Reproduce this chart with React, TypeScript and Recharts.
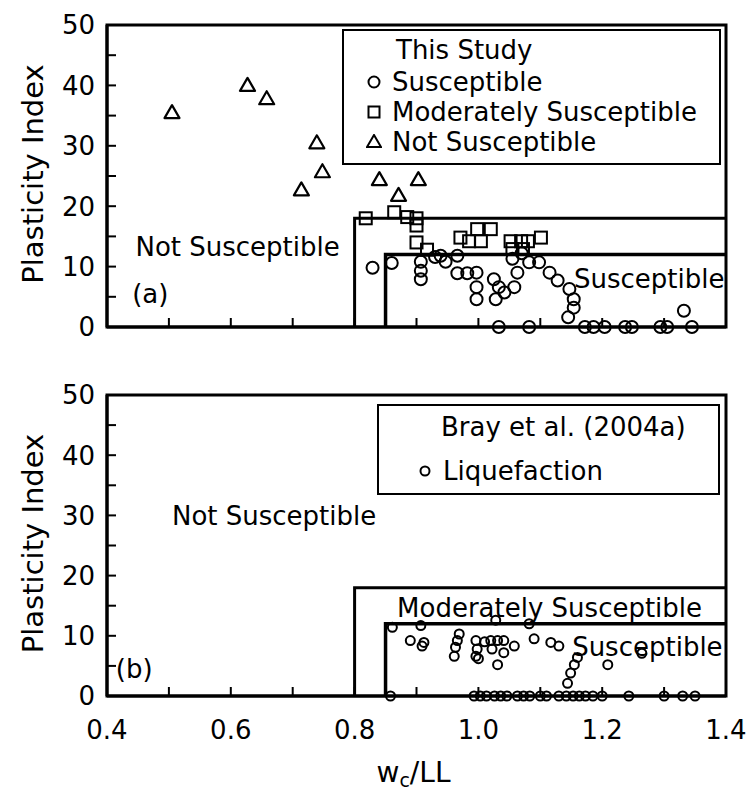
import React from "react";
import {
  ScatterChart,
  Scatter,
  XAxis,
  YAxis,
  ReferenceArea,
  ReferenceDot,
  Legend,
} from "recharts";

// axis ticks
const xTicks = [0.4, 0.5, 0.6, 0.7, 0.8, 0.9, 1.0, 1.1, 1.2, 1.3, 1.4];
const xTickLabels = ["0.4", "", "0.6", "", "0.8", "", "1.0", "", "1.2", "", "1.4"];
const yTicks = [0, 5, 10, 15, 20, 25, 30, 35, 40, 45, 50];

// criteria boundaries (wc/LL, PI)
const moderateBoundary: [number, number][] = [[0.8, 0], [0.8, 18], [1.4, 18]];
const susceptibleBoundary: [number, number][] = [[0.85, 0], [0.85, 12], [1.4, 12]];

// (a) this study
const studySusceptible: [number, number][] = [
  [0.829, 9.8], [0.86, 10.6], [0.907, 10.8], [0.907, 9.3], [0.907, 7.9], [0.93, 11.6],
  [0.939, 11.8], [0.947, 10.8], [0.966, 11.8], [0.966, 8.9], [0.982, 8.9], [0.997, 9.0],
  [0.997, 6.6], [0.997, 4.6], [1.025, 7.9], [1.033, 6.6], [1.028, 4.6], [1.042, 5.7],
  [1.058, 6.6], [1.063, 9.0], [1.055, 11.3], [1.07, 12.2], [1.082, 10.7], [1.098, 10.7],
  [1.115, 9.0], [1.128, 7.7], [1.147, 6.3], [1.154, 4.6], [1.154, 3.2], [1.145, 1.6],
  [1.332, 2.7],
  [1.033, 0], [1.082, 0], [1.172, 0], [1.186, 0], [1.204, 0], [1.237, 0], [1.248, 0],
  [1.294, 0], [1.305, 0], [1.345, 0],
];
const studyModerate: [number, number][] = [
  [0.818, 18.0], [0.864, 19.0], [0.885, 18.2], [0.9, 18.0], [0.9, 16.8], [0.9, 14.0],
  [0.917, 12.8], [0.971, 14.8], [0.998, 16.2], [1.02, 16.2], [0.985, 14.2], [1.004, 14.2],
  [1.052, 14.2], [1.069, 14.2], [1.08, 14.2], [1.055, 12.9], [1.072, 12.9], [1.101, 14.8],
];
const studyNot: [number, number][] = [
  [0.505, 35.5], [0.627, 40], [0.658, 37.8], [0.739, 30.5], [0.748, 25.7], [0.714, 22.7],
  [0.84, 24.4], [0.871, 21.8], [0.903, 24.4],
];

// (b) Bray et al. (2004a)
const brayLiquefaction: [number, number][] = [
  [0.861, 11.4], [0.907, 11.7], [0.89, 9.2], [0.912, 8.9], [0.909, 8.3], [0.969, 10.3],
  [0.966, 9.2], [0.963, 8.1], [0.961, 6.6], [0.996, 9.2], [0.998, 7.8], [0.996, 6.6],
  [1.01, 9.0], [1.0, 6.2], [1.02, 9.2], [1.031, 9.2], [1.041, 9.2], [1.022, 7.8],
  [1.041, 7.2], [1.031, 5.2], [1.058, 8.3], [1.028, 12.6], [1.082, 12.0], [1.09, 9.5],
  [1.117, 8.9], [1.13, 8.3], [1.16, 6.4], [1.155, 5.2], [1.149, 3.8], [1.144, 2.1],
  [1.209, 5.2], [1.264, 7.1],
  [0.858, 0], [0.993, 0], [1.003, 0], [1.013, 0], [1.026, 0], [1.036, 0], [1.046, 0],
  [1.063, 0], [1.073, 0], [1.083, 0], [1.1, 0], [1.11, 0], [1.13, 0], [1.142, 0],
  [1.153, 0], [1.163, 0], [1.173, 0], [1.185, 0], [1.2, 0], [1.243, 0], [1.3, 0],
  [1.33, 0], [1.35, 0],
];

const pts = (a: [number, number][]) => a.map(([x, y]) => ({ x, y }));

const FONT = "'DejaVu Sans', sans-serif";
const FS = 26;
const X_GAP = 24; // axis line -> top of x tick label
const Y_GAP = 12; // axis line -> right edge of y tick label
const TICK_LEN = 9;

// tick-mark anchors, taken from the tick arrays
const xTickMarks = xTicks.slice(1, -1).map((x) => ({ x, y: 0 }));
const yTickMarks = yTicks.slice(1, -1).map((y) => ({ x: 0.4, y }));

const circleShape = (r: number) => (p: any) =>
  <circle cx={p.cx} cy={p.cy} r={r} fill="none" stroke="#000" strokeWidth={2} />;
const squareShape = (p: any) =>
  <rect x={p.cx - 6} y={p.cy - 6} width={12} height={12} fill="none" stroke="#000" strokeWidth={2} />;
const triangleShape = (p: any) =>
  <polygon
    points={`${p.cx},${p.cy - 7.5} ${p.cx - 7.5},${p.cy + 5.5} ${p.cx + 7.5},${p.cy + 5.5}`}
    fill="none" stroke="#000" strokeWidth={2.2} strokeLinejoin="round" />;
const upTick = (p: any) =>
  <line x1={p.cx} x2={p.cx} y1={p.cy} y2={p.cy - TICK_LEN} stroke="#000" strokeWidth={2} />;
const rightTick = (p: any) =>
  <line x1={p.cx} x2={p.cx + TICK_LEN} y1={p.cy} y2={p.cy} stroke="#000" strokeWidth={2} />;
const noShape = () => <g />;

const makeXTick = (showLabels: boolean) => (p: any) => {
  const label = showLabels ? xTickLabels[p.index] ?? "" : "";
  if (!label) return <g />;
  return (
    <text x={p.x} y={p.y} dy="0.73em" textAnchor="middle" fontSize={FS} fill="#000" fontFamily={FONT}>
      {label}
    </text>
  );
};

const YTick = (p: any) => {
  const v = p.payload?.value;
  if (v % 10 !== 0) return <g />;
  return (
    <text x={p.x} y={p.y} dy="0.36em" textAnchor="end" fontSize={FS} fill="#000" fontFamily={FONT}>
      {String(v)}
    </text>
  );
};

function YLabel(props: any) {
  const vb = props.viewBox;
  const cx = 33;
  const cy = vb.y + vb.height / 2 - 2;
  return (
    <text x={cx} y={cy} transform={`rotate(-90 ${cx} ${cy})`} textAnchor="middle"
      dominantBaseline="central" fontSize={29} fill="#000" fontFamily={FONT}>
      Plasticity Index
    </text>
  );
}

function XLabel(props: any) {
  const vb = props.viewBox;
  return (
    <text x={vb.x + vb.width / 2 - 3} y={vb.y + 86} textAnchor="middle" fontSize={28}
      fill="#000" fontFamily={FONT}>
      <tspan>w</tspan>
      <tspan fontSize={19} dy={5}>c</tspan>
      <tspan dy={-5}>/LL</tspan>
    </text>
  );
}

function Sym({ kind }: { kind: string }) {
  return (
    <svg width={16} height={16} style={{ position: "absolute", left: -8, top: -8 }}>
      {kind === "circle" && <circle cx={8} cy={8} r={5.5} fill="none" stroke="#000" strokeWidth={2} />}
      {kind === "small" && <circle cx={8} cy={8} r={4.5} fill="none" stroke="#000" strokeWidth={2} />}
      {kind === "square" && <rect x={2.5} y={2.5} width={11} height={11} fill="none" stroke="#000" strokeWidth={2} />}
      {kind === "triangle" && <polygon points="8,1 1,13 15,13" fill="none" stroke="#000" strokeWidth={2} />}
    </svg>
  );
}

function Row({ y, x, text, sym, sx }: { y: number; x: number; text: string; sym?: string; sx?: number }) {
  return (
    <>
      {sym ? (
        <div style={{ position: "absolute", left: sx, top: y }}>
          <Sym kind={sym} />
        </div>
      ) : null}
      <div style={{ position: "absolute", left: x, top: y - 16, lineHeight: "32px", whiteSpace: "nowrap" }}>
        {text}
      </div>
    </>
  );
}

function LegendBox({ children }: { children: React.ReactNode }) {
  return (
    <div style={{
      position: "relative", width: "100%", height: "100%", boxSizing: "border-box",
      border: "2.5px solid #000", background: "#fff", fontFamily: FONT, fontSize: FS, color: "#000",
    }}>
      {children}
    </div>
  );
}

const regionLabel = (value: string) => ({ value, position: "center" as const, fontSize: FS, fill: "#000", fontFamily: FONT });

function Panel({ top, showLabels }: { top: boolean; showLabels: boolean }) {
  const height = top ? 370 : 422;
  const xAxisHeight = top ? 43 : 96;
  return (
    <ScatterChart width={749} height={height} margin={{ top: 25, right: 23, left: 0, bottom: 0 }}>
      <XAxis
        type="number" dataKey="x" domain={[0.4, 1.4]} ticks={xTicks} interval={0}
        height={xAxisHeight}
        axisLine={{ stroke: "#000", strokeWidth: 3 }}
        tickLine={false} tickSize={0} tickMargin={X_GAP}
        tick={makeXTick(showLabels)}
        label={showLabels ? <XLabel /> : undefined}
      />
      <YAxis
        type="number" dataKey="y" domain={[0, 50]} ticks={yTicks} interval={0}
        width={107}
        axisLine={{ stroke: "#000", strokeWidth: 3 }}
        tickLine={false} tickSize={0} tickMargin={Y_GAP}
        tick={YTick}
        label={<YLabel />}
      />
      <ReferenceArea x1={0.4} x2={1.4} y1={0} y2={50} fill="none" fillOpacity={0} stroke="#000" strokeWidth={3} ifOverflow="visible" />

      {/* inward tick marks */}
      <Scatter data={xTickMarks} shape={upTick} isAnimationActive={false} legendType="none" />
      <Scatter data={yTickMarks} shape={rightTick} isAnimationActive={false} legendType="none" />

      <Scatter data={pts(moderateBoundary)} line={{ stroke: "#000", strokeWidth: 3 }} lineType="joint" shape={noShape} isAnimationActive={false} legendType="none" />
      <Scatter data={pts(susceptibleBoundary)} line={{ stroke: "#000", strokeWidth: 3.5 }} lineType="joint" shape={noShape} isAnimationActive={false} legendType="none" />

      {top ? (
        <>
          <Scatter name="Not Susceptible" data={pts(studyNot)} shape={triangleShape} isAnimationActive={false} />
          <Scatter name="Moderately Susceptible" data={pts(studyModerate)} shape={squareShape} isAnimationActive={false} />
          <Scatter name="Susceptible" data={pts(studySusceptible)} shape={circleShape(6)} isAnimationActive={false} />
          <ReferenceDot x={0.611} y={13.3} r={0} stroke="none" label={regionLabel("Not Susceptible")} />
          <ReferenceDot x={0.47} y={5.5} r={0} stroke="none" label={regionLabel("(a)")} />
          <ReferenceDot x={1.276} y={8.0} r={0} stroke="none" label={regionLabel("Susceptible")} />
          <Legend
            layout="horizontal" verticalAlign="middle" align="center"
            wrapperStyle={{ left: 342, top: 29, width: 379, height: 136 }}
            content={() => (
              <LegendBox>
                <Row y={19} x={52} text="This Study" />
                <Row y={51} x={48} text="Susceptible" sym="circle" sx={30} />
                <Row y={81} x={48} text="Moderately Susceptible" sym="square" sx={30} />
                <Row y={111} x={48} text="Not Susceptible" sym="triangle" sx={30} />
              </LegendBox>
            )}
          />
        </>
      ) : (
        <>
          <Scatter name="Liquefaction" data={pts(brayLiquefaction)} shape={circleShape(4.5)} isAnimationActive={false} />
          <ReferenceDot x={0.67} y={30} r={0} stroke="none" label={regionLabel("Not Susceptible")} />
          <ReferenceDot x={0.444} y={4.6} r={0} stroke="none" label={regionLabel("(b)")} />
          <ReferenceDot x={1.115} y={14.6} r={0} stroke="none" label={regionLabel("Moderately Susceptible")} />
          <ReferenceDot x={1.273} y={8.2} r={0} stroke="none" label={regionLabel("Susceptible")} />
          <Legend
            layout="horizontal" verticalAlign="middle" align="center"
            wrapperStyle={{ left: 377, top: 34, width: 343, height: 91 }}
            content={() => (
              <LegendBox>
                <Row y={21} x={62} text="Bray et al. (2004a)" />
                <Row y={65} x={64} text="Liquefaction" sym="small" sx={46} />
              </LegendBox>
            )}
          />
        </>
      )}
    </ScatterChart>
  );
}

export default function App() {
  return (
    <div style={{ position: "relative", width: 749, height: 792, background: "#fff", fontFamily: FONT }}>
      <style>{"body{margin:0;background:#fff}"}</style>
      <div style={{ position: "absolute", left: 0, top: 0 }}>
        <Panel top showLabels={false} />
      </div>
      <div style={{ position: "absolute", left: 0, top: 370 }}>
        <Panel top={false} showLabels />
      </div>
    </div>
  );
}
